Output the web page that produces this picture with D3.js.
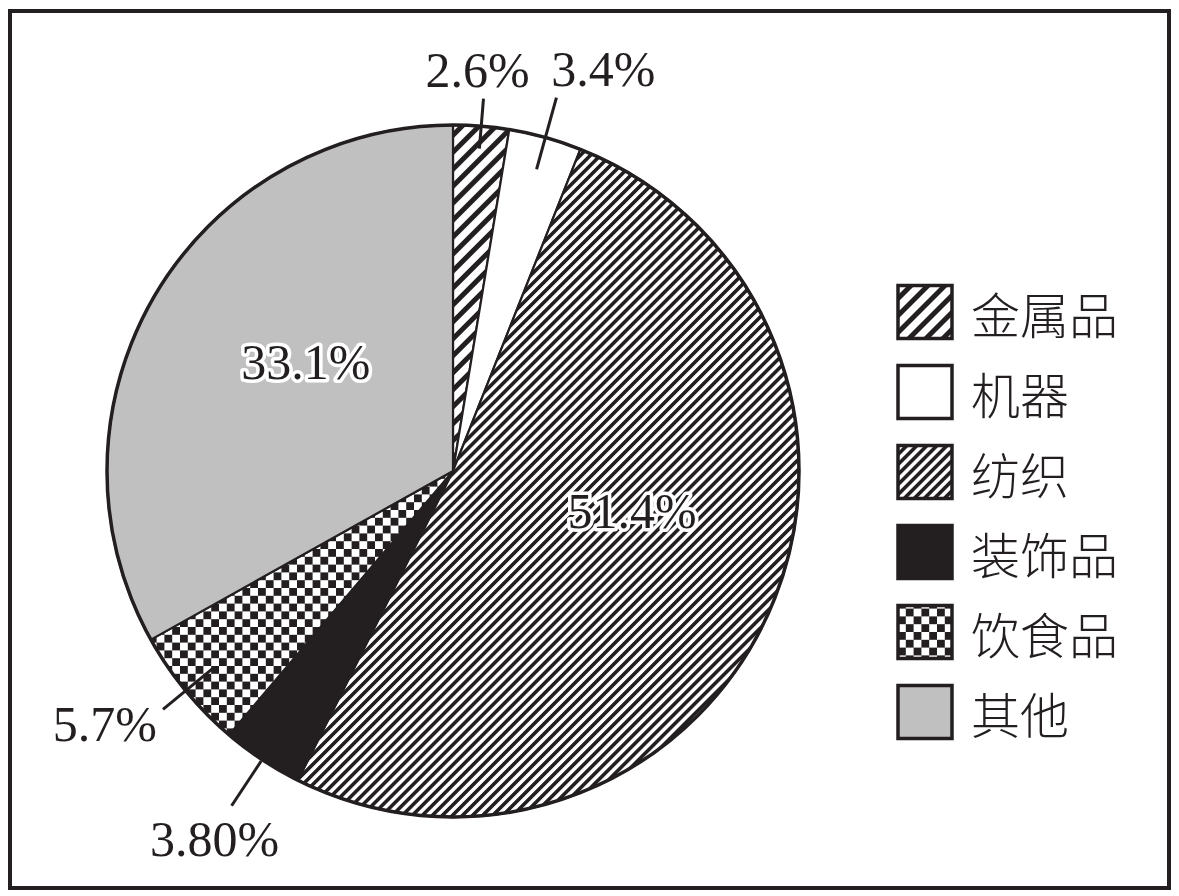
<!DOCTYPE html>
<html>
<head>
<meta charset="utf-8">
<script src="https://cdn.jsdelivr.net/npm/d3@7/dist/d3.min.js"></script>
<style>
  html, body { margin: 0; padding: 0; background: #fff; }
  svg { display: block; }
</style>
</head>
<body>
<svg id="chart" width="1179" height="896"></svg>
<script>
// ---- data ----
const categories = ["金属品", "机器", "纺织", "装饰品", "饮食品", "其他"];
const values = [2.6, 3.4, 51.4, 3.8, 5.7, 33.1];
const valueLabels = ["2.6%", "3.4%", "51.4%", "3.80%", "5.7%", "33.1%"];
const fillKeys = ["bigStripe", "white", "smallStripe", "black", "checker", "gray"];

// ---- layout (not data) ----
const W = 1179, H = 896;
const cx = 453, cy = 471, R = 346;
const labelLayout = [
  { kind: "out", r0: 0.935, r1: 1.08, dx: -6, dy: -12, anchor: "middle" },
  { kind: "out", r0: 0.905, r1: 1.12, dx: 47, dy: -12, anchor: "middle" },
  { kind: "in", rt: 0.53, ang: 102.6 },
  { kind: "out", r0: 1.005, r1: 1.16, dx: -17, dy: 50, anchor: "middle" },
  { kind: "out", r0: 0.895, r1: 1.085, dx: -6, dy: 32, anchor: "end" },
  { kind: "in", rt: 0.53, ang: 306.6 }
];

const svg = d3.select("#chart");
const ink = "#231f20";

// ---- patterns ----
const defs = svg.append("defs");
function stripePattern(id, period, thick) {
  const p = defs.append("pattern").attr("id", id)
    .attr("patternUnits", "userSpaceOnUse")
    .attr("width", period).attr("height", period)
    .attr("patternTransform", "rotate(45)");
  p.append("rect").attr("width", period).attr("height", period).attr("fill", "#fff");
  p.append("rect").attr("x", 0).attr("y", 0).attr("width", thick).attr("height", period).attr("fill", ink);
}
stripePattern("bigStripe", 12, 5);
stripePattern("smallStripe", 7.1, 3.6);
const cs = 7.8;
const ck = defs.append("pattern").attr("id", "checker")
  .attr("patternUnits", "userSpaceOnUse")
  .attr("width", cs * 2).attr("height", cs * 2);
ck.append("rect").attr("width", cs * 2).attr("height", cs * 2).attr("fill", "#fff");
ck.append("rect").attr("x", 0).attr("y", 0).attr("width", cs).attr("height", cs).attr("fill", ink);
ck.append("rect").attr("x", cs).attr("y", cs).attr("width", cs).attr("height", cs).attr("fill", ink);

const fillFor = { bigStripe: "url(#bigStripe)", white: "#fff", smallStripe: "url(#smallStripe)", black: ink, checker: "url(#checker)", gray: "#c0c0c0" };
const colorScale = d3.scaleOrdinal().domain(categories).range(fillKeys.map(k => fillFor[k]));

// ---- frame ----
svg.append("rect").attr("x", 10).attr("y", 11).attr("width", 1159).attr("height", 877)
  .attr("fill", "#fff").attr("stroke", ink).attr("stroke-width", 4);

// ---- pie ----
const data = categories.map((c, i) => ({ cat: c, value: values[i], label: valueLabels[i], lay: labelLayout[i] }));
const pie = d3.pie().sort(null).value(d => d.value);
const arcs = pie(data);
const arc = d3.arc().innerRadius(0).outerRadius(R);
const g = svg.append("g").attr("transform", `translate(${cx},${cy})`);

g.selectAll("path.slice").data(arcs).enter().append("path")
  .attr("class", "slice")
  .attr("d", arc)
  .attr("fill", d => colorScale(d.data.cat))
  .attr("stroke", ink).attr("stroke-width", 2.2).attr("stroke-linejoin", "miter");

g.append("circle").attr("r", R).attr("fill", "none").attr("stroke", ink).attr("stroke-width", 3.5);

// ---- labels ----
const numFont = "'Liberation Serif', 'Times New Roman', serif";
const numSize = 50;
function polar(angDeg, r) {
  const a = angDeg * Math.PI / 180;
  return [Math.sin(a) * r, -Math.cos(a) * r];
}
arcs.forEach(d => {
  const lay = d.data.lay;
  const midDeg = (d.startAngle + d.endAngle) / 2 * 180 / Math.PI;
  if (lay.kind === "out") {
    const p0 = polar(midDeg, R * lay.r0), p1 = polar(midDeg, R * lay.r1);
    g.append("line").attr("x1", p0[0]).attr("y1", p0[1]).attr("x2", p1[0]).attr("y2", p1[1])
      .attr("stroke", ink).attr("stroke-width", 3);
    g.append("text").attr("x", p1[0] + lay.dx).attr("y", p1[1] + lay.dy)
      .attr("text-anchor", lay.anchor)
      .attr("font-family", numFont).attr("font-size", numSize).attr("fill", ink)
      .text(d.data.label);
  } else {
    const p = polar(lay.ang, R * lay.rt);
    g.append("text").attr("x", p[0]).attr("y", p[1])
      .attr("text-anchor", "middle").attr("dominant-baseline", "central")
      .attr("font-family", numFont).attr("font-size", numSize).attr("fill", ink)
      .attr("stroke", "#fff").attr("stroke-width", 7).attr("stroke-linejoin", "round")
      .attr("paint-order", "stroke")
      .text(d.data.label);
  }
});

// ---- legend ----
const legendY = d3.scalePoint().domain(categories).range([312, 712]);
const lg = svg.append("g");
const items = lg.selectAll("g.item").data(categories).enter().append("g")
  .attr("class", "item")
  .attr("transform", c => `translate(898,${legendY(c)})`);
items.append("rect").attr("x", 0).attr("y", -26.5).attr("width", 54).attr("height", 53)
  .attr("fill", c => colorScale(c)).attr("stroke", ink).attr("stroke-width", 3.5);
items.append("text").attr("x", 73).attr("y", 0)
  .attr("dominant-baseline", "central")
  .attr("font-family", "'Noto Sans CJK SC', sans-serif").attr("font-weight", 300)
  .attr("font-size", 49).attr("fill", ink)
  .text(c => c);
</script>
</body>
</html>
